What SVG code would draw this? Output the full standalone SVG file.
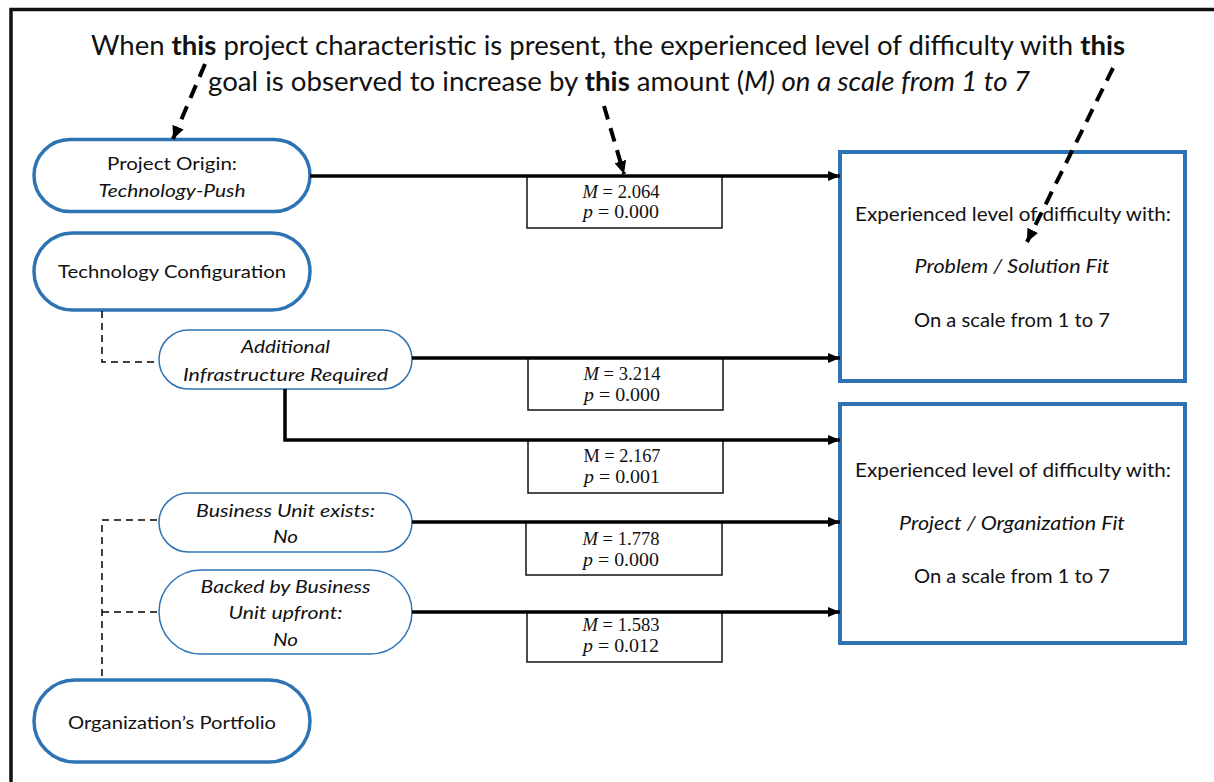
<svg xmlns="http://www.w3.org/2000/svg" width="1214" height="782" viewBox="0 0 1214 782">
<defs>
<marker id="ah" markerWidth="12" markerHeight="10" refX="12" refY="5" orient="auto" markerUnits="userSpaceOnUse"><path d="M0,0 L12,5 L0,10 Z" fill="#000"/></marker>
<marker id="ahd" markerWidth="13" markerHeight="12" refX="13" refY="6" orient="auto" markerUnits="userSpaceOnUse"><path d="M0,0 L13,6 L0,12 Z" fill="#000"/></marker>
<style>
.t{font-family:Lato,"Liberation Sans",sans-serif;fill:#111;text-anchor:middle}
.title{font-size:27px}
.n{font-size:18px}
.g{font-size:20px}
.i{font-style:italic}
.b{font-weight:bold}
.m{font-family:"Liberation Serif",serif;font-size:18.5px;fill:#111;text-anchor:middle}
.pillT{fill:#fff;stroke:#2E74B5;stroke-width:3.5}
.pill{fill:#fff;stroke:#2E74B5;stroke-width:1.5}
.goal{fill:#fff;stroke:#2E74B5;stroke-width:4}
.mbox{fill:#fff;stroke:#111;stroke-width:1.5}
.solid{fill:none;stroke:#000;stroke-width:3.5}
.dash{fill:none;stroke:#000;stroke-width:1.5;stroke-dasharray:7 5}
.bigdash{fill:none;stroke:#000;stroke-width:4;stroke-dasharray:14 9}
</style>
</defs>
<rect width="1214" height="782" fill="#fff"/>
<path d="M11,782 V9.5 H1214" fill="none" stroke="#111" stroke-width="3.5"/>

<g id="title">
<text class="t title" x="608" y="55" textLength="1034" lengthAdjust="spacingAndGlyphs">When <tspan class="b">this</tspan> project characteristic is present, the experienced level of difficulty with <tspan class="b">this</tspan></text>
<text class="t title" x="619" y="91" textLength="822" lengthAdjust="spacingAndGlyphs">goal is observed to increase by <tspan class="b">this</tspan> amount (<tspan class="i">M) on a scale from 1 to 7</tspan></text>
</g>

<g id="node-project-origin">
<rect class="pillT" x="34" y="139.5" width="276" height="72" rx="36"/>
<text class="t n" x="172" y="170" textLength="130" lengthAdjust="spacingAndGlyphs">Project Origin:</text>
<text class="t n i" x="172" y="197" textLength="147" lengthAdjust="spacingAndGlyphs">Technology-Push</text>
</g>
<g id="node-technology-configuration">
<rect class="pillT" x="34" y="233" width="276" height="77" rx="38.5"/>
<text class="t n" x="172" y="278" textLength="228" lengthAdjust="spacingAndGlyphs">Technology Configuration</text>
</g>
<g id="node-additional-infrastructure">
<rect class="pill" x="159" y="330" width="253" height="59" rx="29.5"/>
<text class="t n i" x="285.5" y="353" textLength="89" lengthAdjust="spacingAndGlyphs">Additional</text>
<text class="t n i" x="285.5" y="381" textLength="205" lengthAdjust="spacingAndGlyphs">Infrastructure Required</text>
</g>
<g id="node-business-unit-exists">
<rect class="pill" x="159" y="493" width="253" height="59" rx="29.5"/>
<text class="t n i" x="285.5" y="517" textLength="179" lengthAdjust="spacingAndGlyphs">Business Unit exists:</text>
<text class="t n i" x="285.5" y="543" textLength="25" lengthAdjust="spacingAndGlyphs">No</text>
</g>
<g id="node-backed-by-business-unit">
<rect class="pill" x="159" y="570" width="253" height="84" rx="42"/>
<text class="t n i" x="285.5" y="593" textLength="170" lengthAdjust="spacingAndGlyphs">Backed by Business</text>
<text class="t n i" x="285.5" y="619" textLength="114" lengthAdjust="spacingAndGlyphs">Unit upfront:</text>
<text class="t n i" x="285.5" y="646" textLength="25" lengthAdjust="spacingAndGlyphs">No</text>
</g>
<g id="node-organizations-portfolio">
<rect class="pillT" x="34" y="680" width="276" height="82" rx="41"/>
<text class="t n" x="172" y="729" textLength="208" lengthAdjust="spacingAndGlyphs">Organization’s Portfolio</text>
</g>

<g id="stat-1">
<rect class="mbox" x="527" y="176" width="195" height="52"/>
<text class="m" x="621" y="198" textLength="77" lengthAdjust="spacingAndGlyphs"><tspan font-style="italic">M</tspan> = 2.064</text>
<text class="m" x="621" y="218" textLength="76" lengthAdjust="spacingAndGlyphs"><tspan font-style="italic">p</tspan> = 0.000</text>
</g>
<g id="stat-2">
<rect class="mbox" x="528" y="358" width="195" height="52"/>
<text class="m" x="622" y="380" textLength="77" lengthAdjust="spacingAndGlyphs"><tspan font-style="italic">M</tspan> = 3.214</text>
<text class="m" x="622" y="401" textLength="76" lengthAdjust="spacingAndGlyphs"><tspan font-style="italic">p</tspan> = 0.000</text>
</g>
<g id="stat-3">
<rect class="mbox" x="528" y="440" width="195" height="53"/>
<text class="m" x="622" y="462" textLength="77" lengthAdjust="spacingAndGlyphs">M = 2.167</text>
<text class="m" x="622" y="483" textLength="76" lengthAdjust="spacingAndGlyphs"><tspan font-style="italic">p</tspan> = 0.001</text>
</g>
<g id="stat-4">
<rect class="mbox" x="526" y="522" width="196" height="53"/>
<text class="m" x="621" y="545" textLength="77" lengthAdjust="spacingAndGlyphs"><tspan font-style="italic">M</tspan> = 1.778</text>
<text class="m" x="621" y="566" textLength="76" lengthAdjust="spacingAndGlyphs"><tspan font-style="italic">p</tspan> = 0.000</text>
</g>
<g id="stat-5">
<rect class="mbox" x="527" y="612" width="195" height="50"/>
<text class="m" x="621" y="631" textLength="77" lengthAdjust="spacingAndGlyphs"><tspan font-style="italic">M</tspan> = 1.583</text>
<text class="m" x="621" y="652" textLength="76" lengthAdjust="spacingAndGlyphs"><tspan font-style="italic">p</tspan> = 0.012</text>
</g>

<g id="goal-problem-solution-fit">
<rect class="goal" x="840" y="152" width="345" height="229"/>
<text class="t g" x="1013" y="221" textLength="316" lengthAdjust="spacingAndGlyphs">Experienced level of difficulty with:</text>
<text class="t g i" x="1012" y="273" textLength="195" lengthAdjust="spacingAndGlyphs">Problem / Solution  Fit</text>
<text class="t g" x="1012" y="327" textLength="196" lengthAdjust="spacingAndGlyphs">On a scale from 1 to 7</text>
</g>
<g id="goal-project-organization-fit">
<rect class="goal" x="840" y="404" width="345" height="239"/>
<text class="t g" x="1013" y="477" textLength="316" lengthAdjust="spacingAndGlyphs">Experienced level of difficulty with:</text>
<text class="t g i" x="1012" y="530" textLength="226" lengthAdjust="spacingAndGlyphs">Project / Organization  Fit</text>
<text class="t g" x="1012" y="583" textLength="196" lengthAdjust="spacingAndGlyphs">On a scale from 1 to 7</text>
</g>

<g id="connectors">
<path class="dash" d="M102,311 V362 H159"/>
<path class="dash" d="M157,520 H102 V676"/>
<path class="dash" d="M102,612 H157"/>
<path class="solid" d="M310,176 H840" marker-end="url(#ah)"/>
<path class="solid" d="M412,358 H840" marker-end="url(#ah)"/>
<path class="solid" d="M285,389 V440 H840" marker-end="url(#ah)"/>
<path class="solid" d="M412,522 H840" marker-end="url(#ah)"/>
<path class="solid" d="M412,612 H840" marker-end="url(#ah)"/>
<path class="bigdash" d="M205,64 L173,139" marker-end="url(#ahd)"/>
<path class="bigdash" d="M604,106 L624,174" marker-end="url(#ahd)"/>
<path class="bigdash" d="M1113,68 L1027,242" marker-end="url(#ahd)"/>
</g>
</svg>
